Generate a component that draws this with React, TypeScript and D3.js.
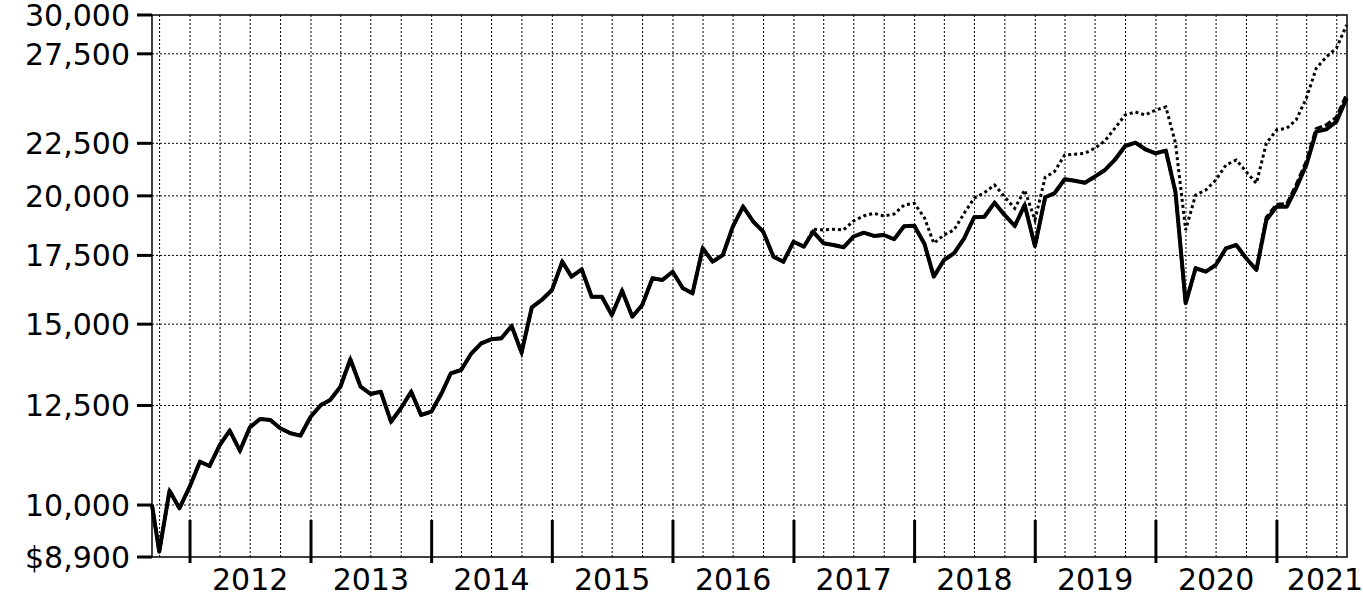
import React from 'react';
import * as d3 from 'd3';

const W = 1363;
const H = 610;
const LEFT = 152;
const RIGHT = 1347;
const TOP = 15;
const BOTTOM = 557;

const inceptionDate = new Date(2011, 8, 8);
const domainEnd = new Date(2021, 7, 1);
const monthEndCount = 119;

const yTickValues = [8900, 10000, 12500, 15000, 17500, 20000, 22500, 27500, 30000];
const yearLabels = [2012, 2013, 2014, 2015, 2016, 2017, 2018, 2019, 2020, 2021];

// Solid line: inception, then month-ends Sep 2011 .. Jul 2021
const solidValues = [
  10000,
  9007, 10327, 9927, 10419,
  11020, 10914, 11440, 11814, 11295, 11904, 12127, 12100, 11877, 11745, 11682, 12190,
  12514, 12655, 13038, 13864, 13038, 12827, 12893, 12054, 12422, 12893, 12237, 12327,
  12846, 13436, 13536, 14030, 14370, 14500, 14532, 14939, 14072, 15578, 15836, 16194,
  17256, 16686, 16963, 15953, 15953, 15312, 16170, 15253, 15660, 16625, 16562, 16873,
  16257, 16075, 17782, 17256, 17517, 18665, 19521, 18875, 18456, 17450, 17256, 18047,
  17846, 18456, 17983, 17915, 17821, 18250, 18415, 18280, 18320, 18145, 18680, 18700,
  17950, 16686, 17322, 17584, 18186, 19061, 19085, 19697, 19160, 18695, 19595, 17874,
  19937, 20116, 20757, 20692, 20599, 20879, 21195, 21709, 22366, 22533, 22202, 22003,
  22132, 20188, 15719, 17003, 16873, 17129, 17782, 17915, 17388, 16938, 18946, 19521,
  19521, 20342, 21433, 23096, 23220, 23619, 24890,
];

// Dotted line equals the solid line until Jan 2017; its own values from Feb 2017
const dottedStartIndex = 66;
const dottedTail = [
  18556, 18527, 18556, 18527, 18904, 19117, 19233, 19117, 19203, 19595, 19670,
  19031, 17983, 18320, 18527, 19233, 19892, 20143, 20495, 19963, 19449, 20266, 18946,
  20851, 21115, 21920, 21960, 22000, 22251, 22634, 23300, 23976, 24138, 23976, 24246,
  24410, 22530, 18527, 20039, 20266, 20725, 21433, 21674, 21115, 20571, 22501, 23184,
  23272, 23709, 24890, 26623, 27324, 27842, 29336,
];

// Dashed line equals the solid line until Oct 2020; its own values from Nov 2020
const dashedStartIndex = 111;
const dashedTail = [19050, 19620, 19650, 20480, 21600, 23250, 23450, 23850, 25100];

const dates: Date[] = [
  inceptionDate,
  ...d3.range(monthEndCount).map((i) => new Date(2011, 8 + i + 1, 0)),
];

const dottedValues = solidValues.slice(0, dottedStartIndex).concat(dottedTail);
const dashedValues = solidValues.slice(0, dashedStartIndex).concat(dashedTail);

export default function App() {
  const x = d3.scaleTime().domain([inceptionDate, domainEnd]).range([LEFT, RIGHT]);
  const y = d3.scaleLog().domain([8900, 30000]).range([BOTTOM, TOP]);

  const line = d3
    .line<number>()
    .x((_, i) => x(dates[i]))
    .y((d) => y(d));

  const quarters = d3.timeMonth.every(3)!.range(inceptionDate, domainEnd);
  const yearStarts = d3.timeYear.range(inceptionDate, domainEnd);

  const fmt = (v: number) => (v === 8900 ? '$' : '') + d3.format(',')(v);
  const font = '"DejaVu Sans", Verdana, sans-serif';

  return (
    <svg
      width={W}
      height={H}
      style={{ position: 'absolute', left: 0, top: 0, background: '#fff' }}
    >
      <rect x={0} y={0} width={W} height={H} fill="#fff" />
      {quarters.map((d, i) => (
        <line
          key={'vq' + i}
          x1={x(d)}
          x2={x(d)}
          y1={TOP}
          y2={BOTTOM}
          stroke="#000"
          strokeWidth={1}
          strokeDasharray="2,2"
        />
      ))}
      {yTickValues
        .filter((v) => v !== 8900 && v !== 30000)
        .map((v) => (
          <line
            key={'hg' + v}
            x1={LEFT}
            x2={RIGHT}
            y1={y(v)}
            y2={y(v)}
            stroke="#000"
            strokeWidth={1}
            strokeDasharray="2,2"
          />
        ))}
      <path
        d={line(dottedValues) || ''}
        fill="none"
        stroke="#000"
        strokeWidth={3}
        strokeDasharray="3,3"
      />
      <path
        d={line(dashedValues) || ''}
        fill="none"
        stroke="#000"
        strokeWidth={3.4}
        strokeDasharray="7,3"
      />
      <path
        d={line(solidValues) || ''}
        fill="none"
        stroke="#000"
        strokeWidth={4}
        strokeLinejoin="round"
      />
      <rect
        x={LEFT}
        y={TOP}
        width={RIGHT - LEFT}
        height={BOTTOM - TOP}
        fill="none"
        stroke="#000"
        strokeWidth={1.5}
      />
      {yTickValues.map((v) => (
        <g key={'yt' + v}>
          <line x1={137} x2={LEFT} y1={y(v)} y2={y(v)} stroke="#000" strokeWidth={3} />
          <text
            x={130}
            y={y(v) + 11}
            textAnchor="end"
            fontFamily={font}
            fontSize={30}
            fill="#000"
          >
            {fmt(v)}
          </text>
        </g>
      ))}
      {yearStarts.map((d, i) => (
        <line
          key={'yt' + i}
          x1={x(d)}
          x2={x(d)}
          y1={520}
          y2={563}
          stroke="#000"
          strokeWidth={3}
        />
      ))}
      {yearLabels.map((yr) => {
        const cx = Math.min(x(new Date(yr, 6, 1)), W - 38);
        return (
          <text
            key={'yl' + yr}
            x={cx}
            y={590}
            textAnchor="middle"
            fontFamily={font}
            fontSize={30}
            fill="#000"
          >
            {yr}
          </text>
        );
      })}
    </svg>
  );
}
